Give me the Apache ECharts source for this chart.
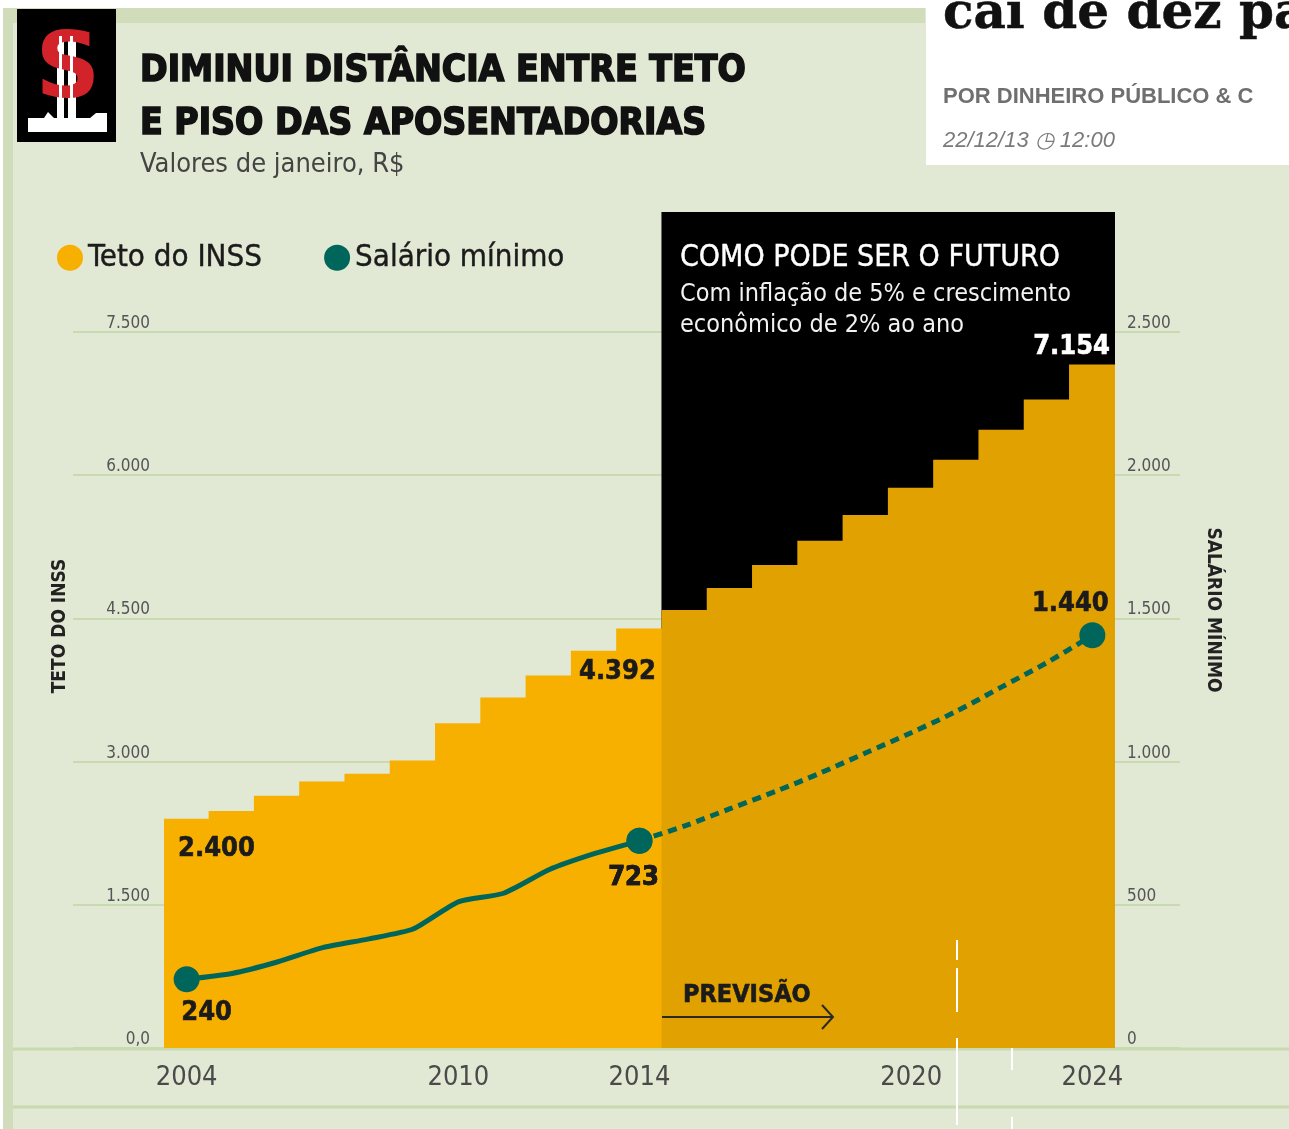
<!DOCTYPE html>
<html>
<head>
<meta charset="utf-8">
<script src="https://cdn.jsdelivr.net/npm/echarts@6/dist/echarts.min.js"></script>
<style>
html, body { margin: 0; padding: 0; background: #E1E8D3; }
#chart { width: 1289px; height: 1129px; }
</style>
</head>
<body>
<div id="chart"></div>
<script>
// valores de janeiro, R$
const anos = ['2004', '2005', '2006', '2007', '2008', '2009', '2010', '2011', '2012', '2013', '2014',
              '2015', '2016', '2017', '2018', '2019', '2020', '2021', '2022', '2023', '2024'];
const tetoInss = [2400, 2480, 2640, 2790, 2870, 3010, 3400, 3670, 3900, 4159, 4392,
                  4584, 4815, 5056, 5310, 5580, 5864, 6157, 6472, 6787, 7154];
const salarioMinimo = [240, 260, 300, 350, 380, 415, 510, 540, 622, 678, 723,
                       775, 835, 895, 960, 1030, 1100, 1175, 1260, 1345, 1440];
const anosRotulados = ['2004', '2010', '2014', '2020', '2024'];
const ticksTeto = [0, 1500, 3000, 4500, 6000, 7500];
const ticksSalario = [0, 500, 1000, 1500, 2000, 2500];
const primeiroPrevisto = anos.indexOf('2015');
const ultimoReal = primeiroPrevisto - 1;

// topo da caixa preta "futuro", em unidades dos eixos
const topoTeto = 8751;
const topoSalario = 2917;

const COND = '"DejaVu Sans Condensed", "Liberation Sans Narrow", "Roboto", sans-serif';
const LARANJA = '#F8B000';
const LARANJA_ESC = '#E1A100';
const VERDE = '#00665B';
const GRADE = '#C9DAB0';

function fmt(v) {
  return String(v).replace(/\B(?=(\d{3})+(?!\d))/g, '.');
}

const rotuloNum = { show: true, color: '#1b1b1b', fontFamily: COND, fontWeight: 'bold', fontSize: 27,
  textBorderColor: '#1b1b1b', textBorderWidth: 0.6,
  formatter: p => fmt(p.value) };

const rotulosTeto = {
  0: { position: 'insideTopLeft', offset: [9, 12] },
  10: { position: 'insideTopRight', offset: [-2, 25] },
  20: { position: 'insideTopRight', offset: [0, -36], color: '#fff', textBorderColor: '#fff' }
};
const rotulosSalario = {
  0: { position: 'bottom', offset: [20, 2] },
  10: { position: 'bottom', offset: [-6, 6] },
  20: { position: 'top', offset: [-22, 0] }
};

const dadosTeto = tetoInss.map((v, i) => {
  const item = { value: v };
  if (i >= primeiroPrevisto) item.itemStyle = { color: LARANJA_ESC };
  if (rotulosTeto[i]) item.label = Object.assign({}, rotuloNum, rotulosTeto[i]);
  return item;
});
const dadosCaixa = anos.map((a, i) => i >= primeiroPrevisto ? topoTeto : null);

function pontos(de, ate) {
  return salarioMinimo.map((v, i) => {
    if (i < de || i > ate) return null;
    const item = { value: v, symbol: rotulosSalario[i] ? 'circle' : 'none' };
    if (rotulosSalario[i]) item.label = Object.assign({}, rotuloNum, rotulosSalario[i]);
    return item;
  });
}

const chart = echarts.init(document.getElementById('chart'), null, { renderer: 'canvas' });

const txt = (x, y, text, font, fill, extra) => Object.assign({
  type: 'text', x: x, y: y, z: 100,
  style: Object.assign({ text: text, font: font, fill: fill, align: 'left', verticalAlign: 'middle' }, extra || {})
});
const ret = (x, y, w, h, fill, z) => ({ type: 'rect', z: z === undefined ? 0 : z, shape: { x: x, y: y, width: w, height: h }, style: { fill: fill } });
const lin = (x1, y1, x2, y2, stroke, w, z) => ({ type: 'line', z: z === undefined ? 0 : z, shape: { x1: x1, y1: y1, x2: x2, y2: y2 }, style: { stroke: stroke, lineWidth: w } });

const option = {
  backgroundColor: '#E1E8D3',
  animation: false,
  legend: {
    left: 57, top: 242, padding: 0,
    icon: 'circle', itemWidth: 26, itemHeight: 26, itemGap: 62,
    textStyle: { fontFamily: COND, fontSize: 31, color: '#1b1b1b', textBorderColor: '#1b1b1b', textBorderWidth: 0.4 },
    data: [
      { name: 'Teto do INSS', itemStyle: { color: LARANJA } },
      { name: 'Salário mínimo', itemStyle: { color: VERDE } }
    ]
  },
  grid: [
    { left: 73, right: 109, top: 332, bottom: 81 },
    { left: 164, right: 174, top: 212, bottom: 81 }
  ],
  xAxis: [
    { gridIndex: 0, type: 'value', min: 0, max: 1, show: false },
    {
      gridIndex: 1, type: 'category', data: anos, boundaryGap: true,
      axisLine: { show: false }, axisTick: { show: false },
      axisLabel: {
        interval: 0, margin: 16, color: '#4a4a4a', fontFamily: COND, fontSize: 27,
        formatter: v => anosRotulados.includes(v) ? v : ''
      }
    }
  ],
  yAxis: [
    {
      gridIndex: 0, type: 'value', min: ticksTeto[0], max: ticksTeto[ticksTeto.length - 1],
      interval: ticksTeto[1] - ticksTeto[0], position: 'left',
      axisLine: { show: false }, axisTick: { show: false },
      splitLine: { lineStyle: { color: GRADE, width: 2 } },
      axisLabel: {
        inside: true, margin: 77, align: 'right', verticalAlign: 'bottom',
        color: '#555', fontFamily: COND, fontSize: 17,
        formatter: v => v === 0 ? '0,0' : fmt(v)
      }
    },
    {
      gridIndex: 0, type: 'value', min: ticksSalario[0], max: ticksSalario[ticksSalario.length - 1],
      interval: ticksSalario[1] - ticksSalario[0], position: 'right',
      axisLine: { show: false }, axisTick: { show: false }, splitLine: { show: false },
      axisLabel: {
        inside: true, margin: 53, align: 'left', verticalAlign: 'bottom',
        color: '#555', fontFamily: COND, fontSize: 17,
        formatter: v => fmt(v)
      }
    },
    { gridIndex: 1, type: 'value', min: 0, max: topoTeto, show: false, splitLine: { show: false } },
    { gridIndex: 1, type: 'value', min: 0, max: topoSalario, show: false, splitLine: { show: false } }
  ],
  series: [
    {
      name: 'futuro', type: 'bar', xAxisIndex: 1, yAxisIndex: 2,
      data: dadosCaixa, barWidth: '103%', barGap: '-100%',
      itemStyle: { color: '#000' }, silent: true
    },
    {
      name: 'Teto do INSS', type: 'bar', xAxisIndex: 1, yAxisIndex: 2,
      data: dadosTeto, barWidth: '103%', barGap: '-100%',
      itemStyle: { color: LARANJA }
    },
    {
      name: 'Salário mínimo', type: 'line', xAxisIndex: 1, yAxisIndex: 3,
      data: pontos(0, ultimoReal), symbol: 'circle', symbolSize: 26, showAllSymbol: true,
      smooth: 0.2, connectNulls: false,
      itemStyle: { color: VERDE }, lineStyle: { color: VERDE, width: 5 }
    },
    {
      name: 'Salário mínimo', type: 'line', xAxisIndex: 1, yAxisIndex: 3,
      data: pontos(ultimoReal, anos.length - 1), symbol: 'circle', symbolSize: 26, showAllSymbol: true,
      smooth: 0.3, connectNulls: false,
      itemStyle: { color: VERDE }, lineStyle: { color: VERDE, width: 5, type: [9, 6] }
    }
  ],
  graphic: [
    // moldura da página
    ret(0, 0, 1289, 8, '#fff', -1),
    ret(0, 0, 3, 1129, '#fff', -1),
    ret(3, 8, 922, 15, '#D1DDBA', -1),
    ret(3, 8, 10, 1121, '#D1DDBA', -1),
    lin(13, 1049, 1289, 1049, GRADE, 3, -1),
    lin(13, 1107, 1289, 1107, GRADE, 3, -1),
    // cabeçalho do site
    ret(926, 0, 363, 165, '#fff', 50),
    txt(943, 15, 'cai de dez pa', 'bold 50px "DejaVu Serif", serif', '#111', { stroke: '#111', lineWidth: 0.5 }),
    txt(943, 97, 'POR DINHEIRO PÚBLICO & C', 'bold 22px "Liberation Sans", Arial, sans-serif', '#6f6f6f'),
    txt(943, 141, '22/12/13 \u25F7 12:00', 'italic 22px "Liberation Sans", Arial, sans-serif', '#7a7a7a'),
    // logotipo
    ret(17, 9, 99, 133, '#000', 10),
    ret(57, 31, 7, 88, '#fff', 11),
    ret(68, 31, 8, 88, '#fff', 11),
    Object.assign(txt(68, 74, 'S', 'bold 90px "DejaVu Sans", sans-serif', '#D2232A', { align: 'center' }), { z: 12 }),
    ret(59, 36, 3, 80, '#fff', 13),
    ret(70, 36, 3, 80, '#fff', 13),
    { type: 'polygon', z: 13, shape: { points: [[28, 132], [28, 118], [44, 118], [48, 112], [54, 118], [90, 118], [96, 113], [107, 113], [107, 132]] }, style: { fill: '#fff' } },
    // títulos
    txt(140, 71, 'DIMINUI DISTÂNCIA ENTRE TETO', 'bold 37px ' + COND, '#111', { stroke: '#111', lineWidth: 1.6 }),
    txt(140, 124, 'E PISO DAS APOSENTADORIAS', 'bold 37px ' + COND, '#111', { stroke: '#111', lineWidth: 1.6 }),
    txt(140, 165, 'Valores de janeiro, R$', '27px ' + COND, '#444'),
    // caixa do futuro
    txt(680, 258, 'COMO PODE SER O FUTURO', '30px ' + COND, '#fff', { stroke: '#fff', lineWidth: 0.4 }),
    txt(680, 294, 'Com inflação de 5% e crescimento', '25px ' + COND, '#f2f2f2'),
    txt(680, 325, 'econômico de 2% ao ano', '25px ' + COND, '#f2f2f2'),
    // nomes dos eixos
    { type: 'text', x: 60, y: 626, rotation: Math.PI / 2, z: 100,
      style: { text: 'TETO DO INSS', font: 'bold 19px ' + COND, fill: '#222', align: 'center', verticalAlign: 'middle' } },
    { type: 'text', x: 1213, y: 610, rotation: -Math.PI / 2, z: 100,
      style: { text: 'SALÁRIO MÍNIMO', font: 'bold 19px ' + COND, fill: '#222', align: 'center', verticalAlign: 'middle' } },
    // previsão
    txt(683, 995, 'PREVISÃO', 'bold 25px ' + COND, '#1b1b1b', { stroke: '#1b1b1b', lineWidth: 0.6 }),
    { type: 'polyline', z: 100, shape: { points: [[662, 1017], [832, 1017]] }, style: { stroke: '#2a2a2a', lineWidth: 2 } },
    { type: 'polyline', z: 100, shape: { points: [[822, 1005], [833, 1017], [822, 1029]] }, style: { stroke: '#2a2a2a', lineWidth: 2, fill: null } },
    // riscos brancos da digitalização
    lin(957, 940, 957, 960, '#fff', 2, 100),
    lin(957, 968, 957, 1012, '#fff', 2, 100),
    lin(957, 1038, 957, 1125, '#fff', 2, 100),
    lin(1012, 1048, 1012, 1070, '#fff', 2, 100),
    lin(1012, 1117, 1012, 1129, '#fff', 2, 100)
  ]
};

chart.setOption(option);
</script>
</body>
</html>
